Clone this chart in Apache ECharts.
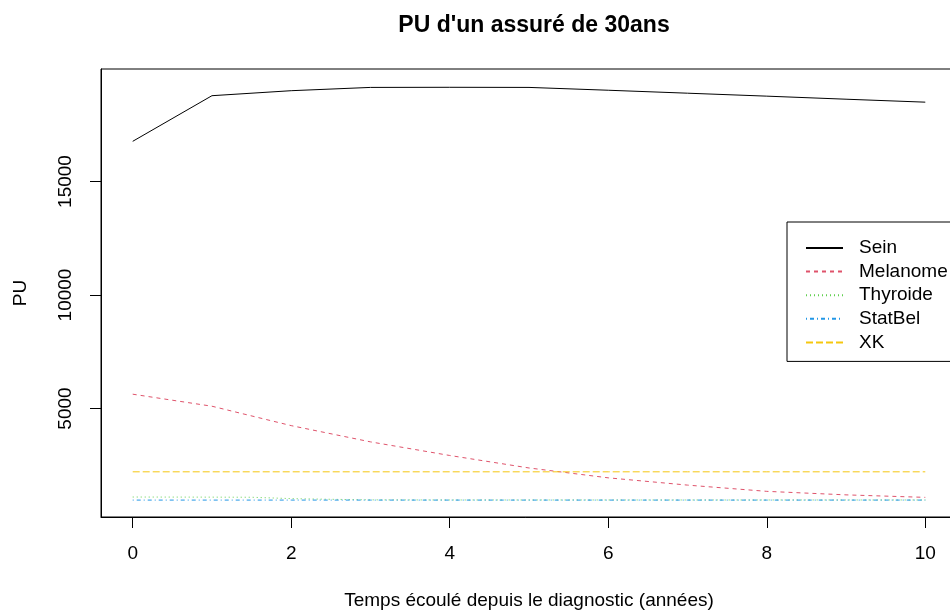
<!DOCTYPE html>
<html>
<head>
<meta charset="utf-8">
<script src="https://cdn.jsdelivr.net/npm/echarts@6/dist/echarts.min.js"></script>
<style>
html, body { margin: 0; padding: 0; background: #fff; }
#box1 { width: 950px; height: 615px; }
</style>
</head>
<body>
<div id="box1"></div>
<script>
/* PU d'un assuré de 30ans */
var years = [0, 1, 2, 3, 4, 5, 6, 7, 8, 9, 10];
var sein = [16770, 18780, 19000, 19145, 19150, 19145, 19020, 18890, 18760, 18625, 18495];
var melanome = [5630, 5100, 4245, 3530, 2930, 2380, 1945, 1625, 1350, 1195, 1085];
var thyroYears = [0, 1, 1.5, 2, 2.5, 3, 4, 5, 6, 7, 8, 9, 10];
var thyroide = [1100, 1095, 1090, 1030, 1000, 975, 970, 970, 970, 970, 970, 970, 970];
var statbel = [965, 965, 965, 965, 965, 965, 965, 965, 965, 965, 965];
var xk = [2210, 2210, 2210, 2210, 2210, 2210, 2210, 2210, 2210, 2210, 2210];
var xTicks = [0, 2, 4, 6, 8, 10];
var yTicks = [5000, 10000, 15000];

var font = 'Liberation Sans';

function pairs(xs, ys) {
    return xs.map(function (x, i) { return [x, ys[i]]; });
}

function line(name, xs, ys, color, dash) {
    return {
        name: name,
        type: 'line',
        yAxisIndex: 0,
        data: pairs(xs, ys),
        symbol: 'none',
        lineStyle: { color: color, width: 1, type: dash },
        itemStyle: { color: color },
        silent: true
    };
}

var dom = document.getElementById("box1");
var myChart = echarts.init(dom);

var option = {
    animation: false,
    backgroundColor: '#fff',
    title: {
        text: "PU d'un assuré de 30ans",
        left: 529,
        textAlign: 'center',
        top: 9,
        textStyle: { fontFamily: font, fontSize: 23, fontWeight: 'bold', color: '#000' }
    },
    legend: {
        orient: 'vertical',
        left: 787,
        top: 222,
        padding: [16, 40, 9, 18],
        itemWidth: 37,
        itemHeight: 14,
        itemGap: 3.6,
        itemStyle: { opacity: 0 },
        backgroundColor: '#fff',
        borderColor: '#000',
        borderWidth: 1,
        borderRadius: 0,
        textStyle: { fontFamily: font, fontSize: 19, color: '#000', lineHeight: 20, padding: [0, 0, 0, 11] },
        data: ['Sein', 'Melanome', 'Thyroide', 'StatBel', 'XK']
    },
    grid: {
        left: 101, top: 69, width: 856, height: 448,
        outerBoundsMode: 'none',
        show: true, borderColor: '#000', borderWidth: 1,
        containLabel: false
    },
    xAxis: {
        type: 'value',
        min: -0.4, max: 10.4,
        name: 'Temps écoulé depuis le diagnostic (années)',
        nameLocation: 'middle',
        nameGap: 74,
        nameTextStyle: { fontFamily: font, fontSize: 19, color: '#000' },
        axisLine: { show: true, onZero: false, lineStyle: { color: '#000', width: 1 } },
        axisTick: { show: true, length: 11, customValues: xTicks, lineStyle: { color: '#000' } },
        axisLabel: { customValues: xTicks, margin: 27, fontFamily: font, fontSize: 19, color: '#000',
            formatter: function (v) { return String(v); } },
        splitLine: { show: false }
    },
    yAxis: [{
        type: 'value',
        min: 220, max: 19956,
        position: 'left',
        name: 'PU',
        nameLocation: 'middle',
        nameRotate: 90,
        nameGap: 71,
        nameTextStyle: { fontFamily: font, fontSize: 19, color: '#000' },
        axisLine: { show: true, onZero: false, lineStyle: { color: '#000', width: 1 } },
        axisTick: { show: true, length: 11, customValues: yTicks, lineStyle: { color: '#000', width: 1 } },
        axisLabel: { customValues: yTicks, rotate: 90, margin: 26, fontFamily: font, fontSize: 19, color: '#000',
            formatter: function (v) { return String(v); } },
        splitLine: { show: false }
    }, {
        // tick-only copy of the y axis, so the short ticks are drawn without labels
        type: 'value',
        min: 220, max: 19956,
        position: 'left',
        offset: 0,
        axisLine: { show: false, onZero: false },
        axisTick: { show: true, length: 11, customValues: yTicks, lineStyle: { color: '#000', width: 1 } },
        axisLabel: { show: false },
        splitLine: { show: false }
    }],
    series: [
        line('Sein', years, sein, '#000000', 'solid'),
        line('Melanome', years, melanome, '#DF536B', [4, 4]),
        line('Thyroide', thyroYears, thyroide, '#61D04F', [1, 3]),
        line('StatBel', years, statbel, '#2297E6', [1, 3, 4, 3]),
        line('XK', years, xk, '#F5C710', [7, 3])
    ]
};

if (option && typeof option === "object") {
    myChart.setOption(option, true);
}
</script>
</body>
</html>
